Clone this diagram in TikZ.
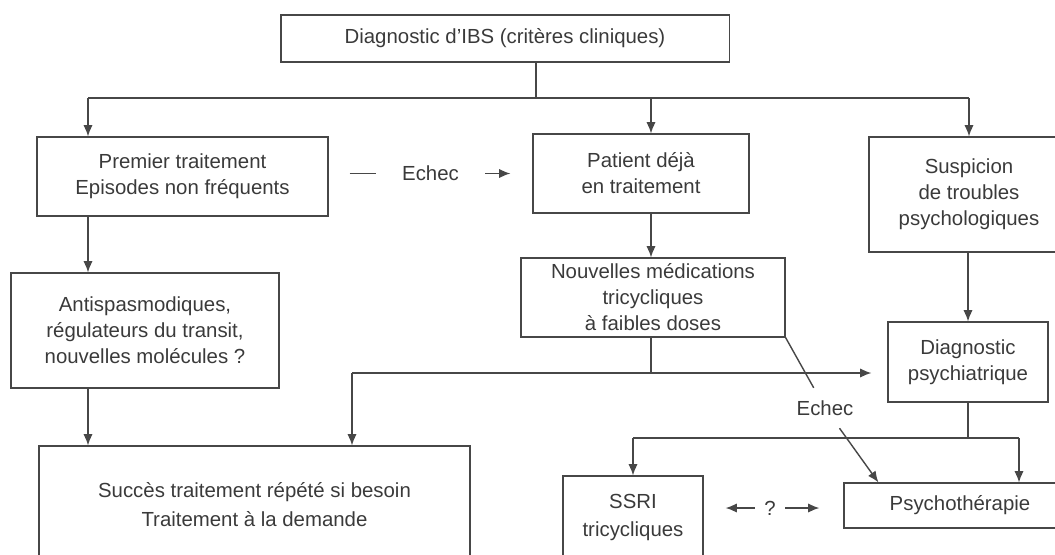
\documentclass[tikz,border=0pt]{standalone}
\usepackage{fontspec}
\setmainfont{Liberation Sans}
\usetikzlibrary{arrows.meta}
\definecolor{ink}{HTML}{3A3A3A}
\definecolor{rule}{HTML}{474747}
\tikzset{
  box/.style={draw=rule, line width=0.8pt, align=center, inner sep=0pt, text=ink},
  lbl/.style={text=ink},
  arr/.style={-{Latex[length=2.8mm,width=2.3mm]}},
}
\begin{document}
\begin{tikzpicture}[x=0.025cm, y=-0.025cm, font=\fontsize{14.5}{18.5}\selectfont, line width=1pt, color=rule]
      \useasboundingbox (0,0) rectangle (1055,554);
      \clip (0,0) rectangle (1055,554);
      \node[box, minimum width=11.2cm, minimum height=1.175cm] (top) at (505,38.5) {Diagnostic d’IBS (critères cliniques)};
      \node[box, minimum width=7.275cm, minimum height=1.975cm] (prem) at (182.5,176.5) {Premier traitement\\Episodes non fréquents};
      \node[box, minimum width=5.4cm, minimum height=1.975cm] (patient) at (641,173.5) {Patient déjà\\en traitement};
      \node[box, minimum width=5cm, minimum height=2.875cm] (susp) at (969,194.5) {Suspicion\\de troubles\\psychologiques};
      \node[box, minimum width=6.7cm, minimum height=2.875cm] (anti) at (145,330.5) {Antispasmodiques,\\régulateurs du transit,\\nouvelles molécules ?};
      \node[box, minimum width=6.6cm, minimum height=1.975cm] (nouv) at (653,297.5) {Nouvelles médications\\tricycliques\\à faibles doses};
      \node[box, minimum width=4cm, minimum height=2cm] (diag) at (968,362) {Diagnostic\\psychiatrique};
      \node[box, minimum width=10.775cm, minimum height=2.925cm] (succes) at (254.5,504.5) {Succès traitement répété si besoin\\[2pt]Traitement à la demande};
      \node[box, minimum width=3.5cm, minimum height=2.075cm] (ssri) at (633,517.5) {SSRI\\[2pt]tricycliques};
      \node[box, minimum width=5.8cm, minimum height=1.125cm] (psycho) at (960,505.5) {Psychothérapie};
      \node[lbl, inner sep=0.3cm] (echec2) at (825,408) {Echec};
      \node[lbl, inner xsep=0.225cm] (qm) at (770,508) {?};
      \coordinate (hub) at (536,98);
      \coordinate (kL) at (88,98);
      \coordinate (kM) at (651,98);
      \coordinate (kR) at (969,98);
      \coordinate (jn) at (651,373);
      \coordinate (jl) at (352,373);
      \coordinate (hub2) at (968,438);
      \coordinate (kP) at (1019,438);
      \coordinate (hit) at ([xshift=0.875cm]psycho.north west);
      \draw (top.south -| hub) -- (hub);
      \draw (kL) -- (kR);
      \draw (nouv.south -| jn) -- (jn);
      \draw (diag.south) -- (hub2);
      \draw (ssri.north |- hub2) -- (kP);
      \draw (nouv.south east) -- (echec2);
      \begin{scope}[arr]
        \draw (kL) -- (prem.north -| kL);
        \draw (kM) -- (patient.north -| kM);
        \draw (kR) -- (susp.north -| kR);
        \draw (prem.south -| kL) -- (anti.north -| kL);
        \draw (anti.south -| kL) -- (succes.north -| kL);
        \draw (patient.south -| kM) -- (nouv.north -| kM);
        \draw (jl) -- (succes.north -| jl);
        \draw[shorten >=0.4cm] (jl) -- (diag.west |- jl);
        \draw (susp.south -| diag.north) -- (diag.north);
        \draw (ssri.north |- hub2) -- (ssri.north);
        \draw (kP) -- (psycho.north -| kP);
        \draw (echec2) -- (hit);
        \draw[shorten <=0.525cm, shorten >=0.55cm] (prem.east |- patient.west) -- node[lbl, fill=white, inner xsep=0.65cm] {Echec} (patient.west);
        \draw[shorten >=0.55cm] (qm) -- (ssri.east |- qm);
        \draw[shorten >=0.6cm] (qm) -- (psycho.west |- qm);
      \end{scope}
    \end{tikzpicture}
\end{document}
